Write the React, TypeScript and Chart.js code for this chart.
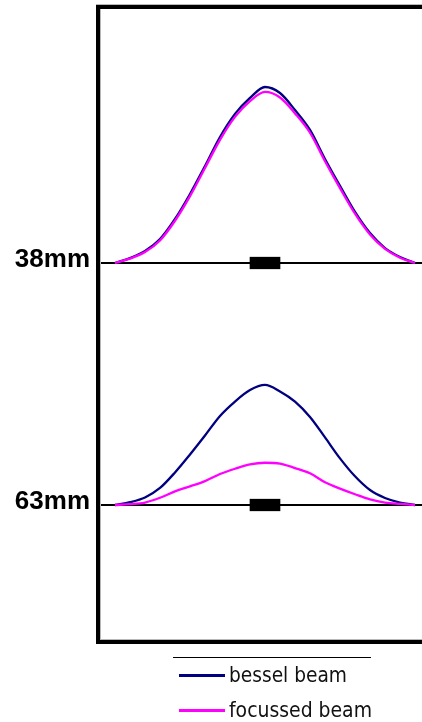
import React, { useEffect, useRef } from "react";
import { Chart, registerables } from "chart.js";

Chart.register(...registerables);

// ---- data ----
const xPositions = [-5, -4.5, -4, -3.5, -3, -2.5, -2, -1.5, -1, -0.5, 0, 0.5, 1, 1.5, 2, 2.5, 3, 3.5, 4, 4.5, 5];
const bessel38 = [0, 0.028, 0.068, 0.136, 0.25, 0.392, 0.551, 0.716, 0.847, 0.938, 1.0, 0.966, 0.869, 0.756, 0.591, 0.438, 0.29, 0.17, 0.085, 0.034, 0];
const focussed38 = [0, 0.025, 0.062, 0.128, 0.24, 0.38, 0.54, 0.7, 0.83, 0.92, 0.972, 0.94, 0.85, 0.74, 0.578, 0.425, 0.28, 0.162, 0.08, 0.03, 0];
const bessel63 = [0, 0.016, 0.043, 0.097, 0.185, 0.287, 0.395, 0.506, 0.588, 0.653, 0.682, 0.645, 0.587, 0.5, 0.384, 0.265, 0.163, 0.085, 0.04, 0.014, 0];
const focussed63 = [0, 0.005, 0.014, 0.041, 0.077, 0.106, 0.136, 0.176, 0.206, 0.231, 0.24, 0.235, 0.21, 0.18, 0.129, 0.093, 0.061, 0.032, 0.014, 0.006, 0];
const panelLabels = ["38mm", "63mm"];
const seriesLabels = ["bessel beam", "focussed beam"];
const markerX = [0, 0];

// ---- layout / style constants ----
const PANEL_OFFSETS = [1.375, 0];
const MARKER_HALF = 0.033;
const COLORS = ["#000080", "#ff00ff"];

function toPoints(vals: number[], off: number) {
  return xPositions.map((x, i) => ({ x, y: vals[i] + off }));
}

const framePlugin = {
  id: "frameAndLegend",
  afterDraw(chart: any) {
    const { ctx, chartArea } = chart;
    const { left, top, right, bottom } = chartArea;
    ctx.save();
    // light outline
    ctx.fillStyle = "#b8b8b8";
    ctx.fillRect(left - 2, top - 3, right - left + 2, 1);
    ctx.fillRect(left + 2, top + 2, 1, bottom - top - 4);
    ctx.fillRect(left + 2, bottom - 3, right - left, 1);
    // black frame
    ctx.fillStyle = "#000";
    ctx.fillRect(left - 2, top - 2, right - left + 2, 4);
    ctx.fillRect(left - 2, top - 2, 4, bottom - top + 4);
    ctx.fillRect(left - 2, bottom - 2, right - left + 2, 4);

    // legend
    ctx.fillStyle = "#000";
    ctx.fillRect(173, 657, 198, 1);
    const legendItems = chart.data.datasets.filter((d: any) => d.inLegend);
    legendItems.forEach((d: any, i: number) => {
      const ly = 675 + i * 35;
      ctx.fillStyle = d.borderColor;
      ctx.fillRect(179, ly - 1, 46, 3);
      ctx.fillStyle = "#111";
      ctx.font = '21px "DejaVu Sans Condensed", "DejaVu Sans", sans-serif';
      ctx.textBaseline = "alphabetic";
      ctx.textAlign = "left";
      const w = i === 0 ? 118 : 143;
      ctx.fillText(d.label, 229, ly + 7, w);
    });
    ctx.restore();
  },
};

export default function App() {
  const ref = useRef<HTMLCanvasElement>(null);
  useEffect(() => {
    if (!ref.current) return;
    const lineStyle = { borderWidth: 2.3, pointRadius: 0, cubicInterpolationMode: "monotone", fill: false };
    const chart = new Chart(ref.current, {
      type: "line",
      data: {
        datasets: [
          {
            type: "bar",
            label: "markers",
            data: markerX.map((x, i) => ({ x, y: [PANEL_OFFSETS[i] - MARKER_HALF, PANEL_OFFSETS[i] + MARKER_HALF] })),
            backgroundColor: "#000",
            borderWidth: 0,
            barThickness: 30,
            order: 0,
          } as any,
          {
            label: seriesLabels[0],
            data: toPoints(bessel38, PANEL_OFFSETS[0]),
            borderColor: COLORS[0],
            ...lineStyle,
            order: 2,
            inLegend: true,
          } as any,
          {
            label: seriesLabels[1],
            data: toPoints(focussed38, PANEL_OFFSETS[0]),
            borderColor: COLORS[1],
            ...lineStyle,
            order: 1,
            inLegend: true,
          } as any,
          {
            label: seriesLabels[1] + " 63",
            data: toPoints(focussed63, PANEL_OFFSETS[1]),
            borderColor: COLORS[1],
            ...lineStyle,
            order: 1,
          } as any,
          {
            label: seriesLabels[0] + " 63",
            data: toPoints(bessel63, PANEL_OFFSETS[1]),
            borderColor: COLORS[0],
            ...lineStyle,
            order: 2,
          } as any,
        ],
      },
      options: {
        responsive: false,
        animation: false,
        events: [],
        layout: { padding: { left: 0, right: 0, top: 7, bottom: 80 } },
        plugins: { legend: { display: false }, tooltip: { enabled: false } },
        scales: {
          x: {
            type: "linear",
            display: false,
            min: -5.5667,
            max: 5.2333,
            offset: false,
            grid: { display: false },
          },
          y: {
            type: "linear",
            min: -0.7784,
            max: 2.8295,
            afterFit: (scale: any) => {
              scale.width = 98;
              scale.paddingTop = 0;
              scale.paddingBottom = 0;
            },
            afterBuildTicks: (scale: any) => {
              scale.ticks = PANEL_OFFSETS.map((v) => ({ value: v }));
            },
            border: { display: false },
            grid: {
              color: "#000",
              lineWidth: 2,
              drawTicks: false,
            },
            ticks: {
              padding: 8,
              labelOffset: -3,
              color: "#000",
              font: { family: "'Liberation Sans', Arial, sans-serif", size: 26, weight: "bold" },
              callback: (value: any) => {
                const idx = PANEL_OFFSETS.indexOf(Number(value));
                return idx >= 0 ? panelLabels[idx] : "";
              },
            },
          },
        },
      },
      plugins: [framePlugin],
    });
    return () => chart.destroy();
  }, []);
  return (
    <div style={{ position: "absolute", left: 0, top: 0, width: 422, height: 722, background: "#fff" }}>
      <canvas ref={ref} width={422} height={722} style={{ display: "block" }} />
    </div>
  );
}
